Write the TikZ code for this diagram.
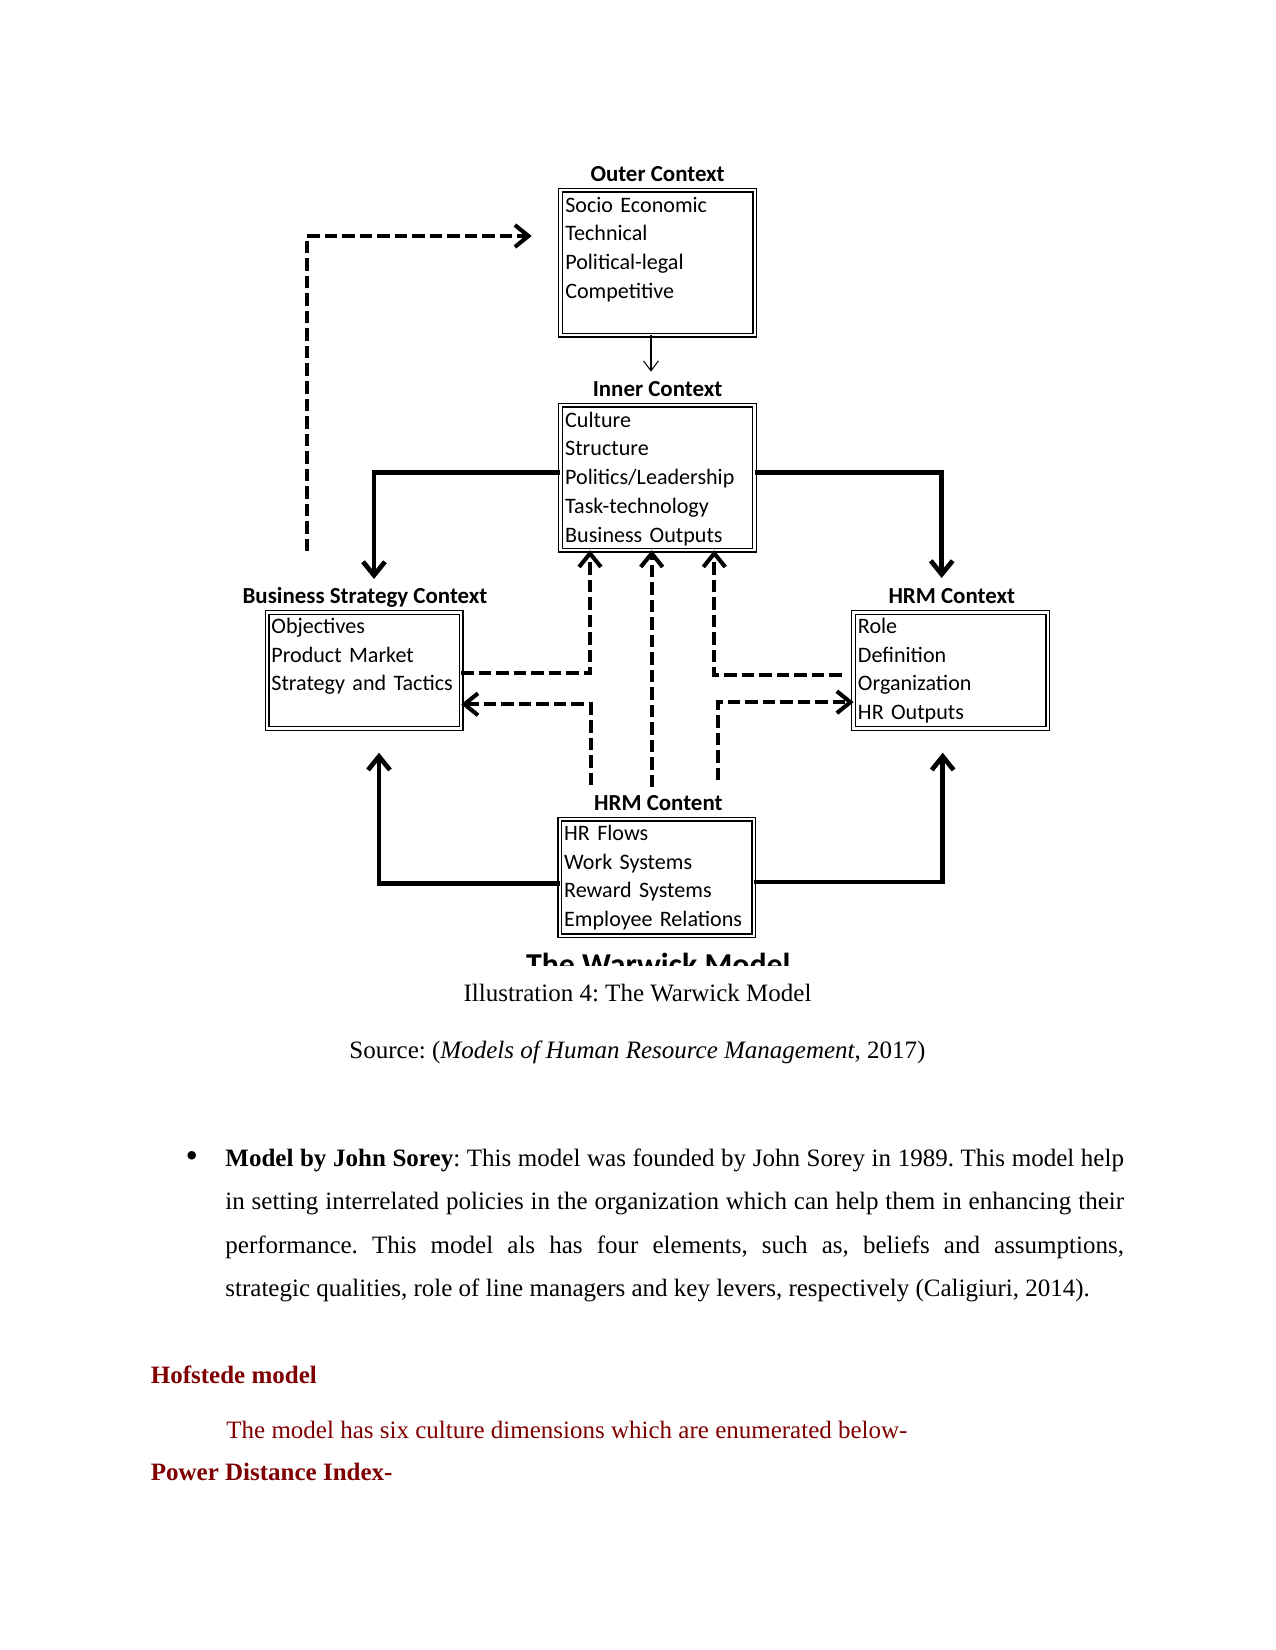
\documentclass[tikz,border=0pt]{standalone}
\usepackage{fontspec}
\setmainfont{Liberation Serif}
\newfontfamily\diagfont{Carlito}
\usetikzlibrary{arrows.meta}
\definecolor{hdred}{HTML}{800000}
\frenchspacing
\begin{document}
\frenchspacing
\begin{tikzpicture}[x=0.48bp,y=-0.48bp,
  boxnode/.style={draw, line width=0.65bp, double, double distance=1.1bp, minimum width=93.2bp, inner sep=0pt, outer sep=0pt},
  titlenode/.style={anchor=base, inner sep=0pt, font=\diagfont\bfseries\fontsize{11bp}{12bp}\selectfont},
  itemnode/.style={anchor=base west, inner sep=0pt, align=left, text width=90bp, font=\diagfont\fontsize{10.6bp}{13.78bp}\selectfont},
  solidarrow/.style={line width=2.25bp, -{Straight Barb[length=6.5bp,width=10.5bp]}},
  dasharrow/.style={line width=1.95bp, dash pattern=on 6bp off 2.4bp, -{Straight Barb[length=6.5bp,width=10.5bp]}},
  thinarrow/.style={line width=0.5bp, -{Straight Barb[length=4.8bp,width=7.2bp]}},
  bodytext/.style={inner sep=0pt, font=\fontsize{12bp}{14bp}\selectfont},
]
\fill[white] (0,0) rectangle (1275,1650);
\useasboundingbox (0,0) rectangle (1275,1650);

% boxes
\node[boxnode, minimum height=69.6bp] (outer) at (657.6,262.6) {};
\node[boxnode, minimum height=69.6bp] (inner) at (657.5,477.7) {};
\node[boxnode, minimum height=55.8bp] (bsc) at (364.1,670.5) {};
\node[boxnode, minimum height=55.8bp] (hrm) at (950.7,670.5) {};
\node[boxnode, minimum height=56.0bp] (hrmc) at (656.9,877.5) {};

% titles
\node[titlenode] (outerT) at ([yshift=4.3bp]outer.north) {Outer Context};
\node[titlenode] (innerT) at ([yshift=4.3bp]inner.north) {Inner Context};
\node[titlenode] (bscT) at ([xshift=0.4bp,yshift=4.3bp]bsc.north) {Business Strategy Context};
\node[titlenode] (hrmT) at ([xshift=0.5bp,yshift=4.3bp]hrm.north) {HRM Context};
\node[titlenode] (hrmcT) at ([xshift=0.7bp,yshift=4.3bp]hrmc.north) {HRM Content};

% items
\node[itemnode] (outerI) at ([xshift=2.1bp,yshift=-10.6bp]outer.north west) {Socio Economic\\Technical\\Political-legal\\Competitive};
\node[itemnode] (innerI) at ([xshift=2.1bp,yshift=-10.6bp]inner.north west) {Culture\\Structure\\Politics/Leadership\\Task-technology\\Business Outputs};
\node[itemnode] (bscI) at ([xshift=1.9bp,yshift=-10.1bp]bsc.north west) {Objectives\\Product Market\\Strategy and Tactics};
\node[itemnode] (hrmI) at ([xshift=1.9bp,yshift=-10.1bp]hrm.north west) {Role\\Definition\\Organization\\HR Outputs};
\node[itemnode] (hrmcI) at ([xshift=1.9bp,yshift=-10.2bp]hrmc.north west) {HR Flows\\Work Systems\\Reward Systems\\Employee Relations};

% free-end coordinates
\coordinate (dA) at (307,551);
\coordinate (dB) at (531.7,236);
\coordinate (tA) at (651,371.7);
\coordinate (s1) at (374,579);
\coordinate (s2) at (941.7,578);
\coordinate (ua) at (590,600);
\coordinate (ub) at (651.7,787);
\coordinate (uc) at (714.3,600);
\coordinate (rS) at (841.7,675);
\coordinate (la) at (590.7,785);
\coordinate (ra) at (718.3,780);
\coordinate (b1) at (379,752.7);
\coordinate (b2) at (942.7,752.7);

% connectors
\draw[dasharrow] (dA) |- (dB);
\draw[thinarrow] (tA |- outer.south) -- (tA);
\draw[solidarrow] ([yshift=2.6bp]inner.west) -| (s1);
\draw[solidarrow] ([yshift=2.6bp]inner.east) -| (s2);
\draw[dasharrow] ([yshift=-1.35bp]bsc.east) -| (ua |- inner.south);
\draw[dasharrow] (ub) -- (ub |- inner.south);
\draw[dasharrow] (rS) -| (uc |- inner.south);
\draw[dasharrow] (la) |- ([yshift=-16.2bp]bsc.east);
\draw[dasharrow] (ra) |- ([yshift=-15.2bp]hrm.west);
\draw[solidarrow] ([yshift=-2.8bp]hrmc.west) -| (b1);
\draw[solidarrow] ([yshift=-2.2bp]hrmc.east) -| (b2);

% clipped bottom caption of the image
\begin{scope}
\clip (400,940) rectangle (900,965.7);
\node[anchor=base, inner sep=0pt, font=\diagfont\bfseries\fontsize{15.3bp}{18bp}\selectfont] (warwick) at (658.3,975) {The Warwick Model};
\end{scope}

% document text
\node[bodytext, anchor=base] (cap) at (637.5,1001.7) {Illustration 4: The Warwick Model};
\node[bodytext, anchor=base] (src) at (637.5,1058.3) {Source: (\textit{Models of Human Resource Management}, 2017)};
\node[bodytext, anchor=base, font=\fontsize{17bp}{18bp}\selectfont] (bul) at (191.7,1167.5) {•};
\node[bodytext, anchor=base west] (p1) at (225,1166.5) {\makebox[431.3bp][s]{\textbf{Model by John Sorey}: This model was founded by John Sorey in 1989. This model help}};
\node[bodytext, anchor=base west] (p2) at (225,1209.8) {\makebox[431.3bp][s]{in setting interrelated policies in the organization which can help them in enhancing their}};
\node[bodytext, anchor=base west] (p3) at (225,1253.1) {\makebox[431.3bp][s]{performance. This model als has four elements, such as, beliefs and assumptions,}};
\node[bodytext, anchor=base west] (p4) at (225,1296.4) {strategic qualities, role of line managers and key levers, respectively (Caligiuri, 2014).};
\node[bodytext, anchor=base west, text=hdred, font=\fontsize{12bp}{14bp}\selectfont\bfseries] (hof) at (150.5,1383.3) {Hofstede model};
\node[bodytext, anchor=base west, text=hdred] (hofT) at (226,1438.3) {The model has six culture dimensions which are enumerated below-};
\node[bodytext, anchor=base west, text=hdred, font=\fontsize{12bp}{14bp}\selectfont\bfseries] (pdi) at (150.5,1480.7) {Power Distance Index-};
\end{tikzpicture}
\end{document}
